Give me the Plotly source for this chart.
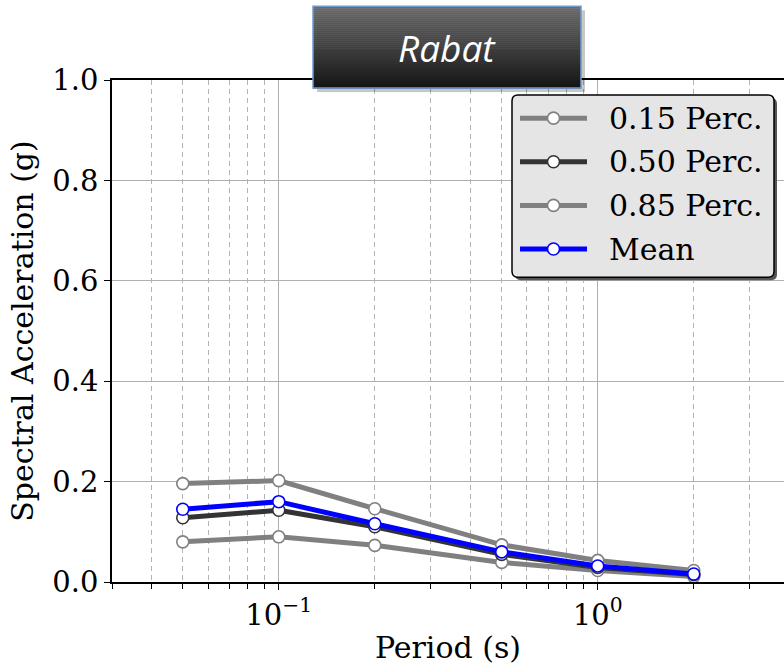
import plotly.graph_objects as go

# Spectral acceleration at each period, Rabat
periods = [0.05, 0.1, 0.2, 0.5, 1.0, 2.0]
perc_15 = [0.080, 0.090, 0.073, 0.039, 0.023, 0.011]
perc_50 = [0.128, 0.143, 0.110, 0.055, 0.029, 0.015]
perc_85 = [0.196, 0.202, 0.146, 0.074, 0.043, 0.023]
mean_sa = [0.145, 0.160, 0.116, 0.060, 0.032, 0.016]

series_names = ["0.15 Perc.", "0.50 Perc.", "0.85 Perc.", "Mean"]
series_values = [perc_15, perc_50, perc_85, mean_sa]
series_colors = ["#808080", "#333333", "#808080", "#0000ff"]

y_ticks = [0.0, 0.2, 0.4, 0.6, 0.8, 1.0]
x_major = [0.1, 1.0]
x_major_text = ["10<sup>\u22121</sup>", "10<sup>0</sup>"]
x_minor = [0.03, 0.04, 0.05, 0.06, 0.07, 0.08, 0.09,
           0.2, 0.3, 0.4, 0.5, 0.6, 0.7, 0.8, 0.9, 2, 3, 4]

W, H = 784, 665
ML, MR, MT, MB = 112, 0, 80, 81
PW, PH = W - ML - MR, H - MT - MB

SERIF = "DejaVu Serif"


def px_x(x):
    return (x - ML) / PW


def px_y(y):
    return (H - MB - y) / PH


fig = go.Figure()
for name, vals, col in zip(series_names, series_values, series_colors):
    fig.add_trace(go.Scatter(
        x=periods, y=vals, name=name, mode="lines+markers",
        line=dict(color=col, width=5),
        marker=dict(size=12, color="white", line=dict(color=col, width=1.6)),
        showlegend=False,
    ))

shapes = []
annotations = []

# title banner: drop shadow, gradient body, blue outline
bx0, bx1, by0, by1 = 313, 581, 6, 88
shapes.append(dict(type="rect", xref="paper", yref="paper",
                   x0=px_x(bx0 + 4), x1=px_x(bx1 + 4),
                   y0=px_y(by0 + 4), y1=px_y(by1 + 4),
                   fillcolor="rgba(0,0,0,0.22)", line=dict(width=0), layer="above"))
n_strips = 41
top_c, bot_c = (0x6a, 0x6a, 0x6a), (0x15, 0x15, 0x15)
for i in range(n_strips):
    t = i / (n_strips - 1)
    c = tuple(int(round(a + (b - a) * t)) for a, b in zip(top_c, bot_c))
    y0 = by0 + (by1 - by0) * i / n_strips
    y1 = by0 + (by1 - by0) * (i + 1) / n_strips
    shapes.append(dict(type="rect", xref="paper", yref="paper",
                       x0=px_x(bx0), x1=px_x(bx1), y0=px_y(y1 + 0.5), y1=px_y(y0),
                       fillcolor="rgb(%d,%d,%d)" % c, line=dict(width=0), layer="above"))
shapes.append(dict(type="rect", xref="paper", yref="paper",
                   x0=px_x(bx0), x1=px_x(bx1), y0=px_y(by1), y1=px_y(by0),
                   fillcolor="rgba(0,0,0,0)", line=dict(color="#6f9bd0", width=1.5),
                   layer="above"))
annotations.append(dict(text="<i>Rabat</i>", xref="paper", yref="paper",
                        x=px_x((bx0 + bx1) / 2), y=px_y((by0 + by1) / 2),
                        xanchor="center", yanchor="middle", showarrow=False,
                        font=dict(family="Open Sans", size=37, color="white")))

# legend: rounded frame with shadow, then one row per series
lx0, lx1, ly0, ly1, r = 512, 774, 95, 278, 6


def rounded(x0, x1, y0, y1, r):
    X = px_x
    Y = px_y
    return (f"M {X(x0 + r)},{Y(y0)} L {X(x1 - r)},{Y(y0)} "
            f"Q {X(x1)},{Y(y0)} {X(x1)},{Y(y0 + r)} L {X(x1)},{Y(y1 - r)} "
            f"Q {X(x1)},{Y(y1)} {X(x1 - r)},{Y(y1)} L {X(x0 + r)},{Y(y1)} "
            f"Q {X(x0)},{Y(y1)} {X(x0)},{Y(y1 - r)} L {X(x0)},{Y(y0 + r)} "
            f"Q {X(x0)},{Y(y0)} {X(x0 + r)},{Y(y0)} Z")


shapes.append(dict(type="path", xref="paper", yref="paper",
                   path=rounded(lx0 + 3, lx1 + 3, ly0 + 3, ly1 + 3, r),
                   fillcolor="#555555", line=dict(width=0), layer="above"))
shapes.append(dict(type="path", xref="paper", yref="paper",
                   path=rounded(lx0, lx1, ly0, ly1, r),
                   fillcolor="#e5e5e5", line=dict(color="black", width=1.5),
                   layer="above"))

row_y0, row_step = 118.3, 43.8
h_x0, h_x1, h_mid, text_x, rad = 520, 587, 553.5, 607, 6
for k, (name, col) in enumerate(zip(series_names, series_colors)):
    ry = row_y0 + k * row_step
    shapes.append(dict(type="line", xref="paper", yref="paper",
                       x0=px_x(h_x0), x1=px_x(h_x1), y0=px_y(ry), y1=px_y(ry),
                       line=dict(color=col, width=5), layer="above"))
    shapes.append(dict(type="circle", xref="paper", yref="paper",
                       x0=px_x(h_mid - rad), x1=px_x(h_mid + rad),
                       y0=px_y(ry + rad), y1=px_y(ry - rad),
                       fillcolor="white", line=dict(color=col, width=1.6),
                       layer="above"))
    annotations.append(dict(text=name, xref="paper", yref="paper",
                            x=px_x(text_x), y=px_y(ry), xanchor="left",
                            yanchor="middle", showarrow=False,
                            font=dict(family=SERIF, size=30, color="black")))

fig.update_layout(
    width=W, height=H,
    margin=dict(l=ML, r=MR, t=MT, b=MB),
    paper_bgcolor="white", plot_bgcolor="white",
    font=dict(family=SERIF, size=28, color="black"),
    shapes=shapes,
    annotations=annotations,
    showlegend=False,
    xaxis=dict(type="log", range=[-1.5229, 0.584],
               tickvals=x_major, ticktext=x_major_text,
               ticks="outside", ticklen=6, tickwidth=1.2, tickcolor="black",
               showline=True, linecolor="black", linewidth=1.5, mirror=True,
               showgrid=True, gridcolor="#b0b0b0", gridwidth=1.3,
               zeroline=False,
               minor=dict(tickvals=x_minor, ticks="outside", ticklen=5,
                          tickcolor="black", tickwidth=1,
                          showgrid=True, gridcolor="#b4b4b4", griddash="5px,4px",
                          gridwidth=1.2),
               title=dict(text="Period (s)", standoff=12,
                          font=dict(family=SERIF, size=30)),
               tickfont=dict(family=SERIF, size=29)),
    yaxis=dict(range=[0, 1], tickvals=y_ticks,
               ticktext=["%.1f" % v for v in y_ticks],
               ticks="outside", ticklen=6, tickwidth=1.2, tickcolor="black",
               showline=True, linecolor="black", linewidth=1.5,
               showgrid=True, gridcolor="#b0b0b0", gridwidth=1.3,
               zeroline=False,
               title=dict(text="Spectral Acceleration (g)", standoff=10,
                          font=dict(family=SERIF, size=30)),
               tickfont=dict(family=SERIF, size=29)),
)

fig.write_html("out.html")
